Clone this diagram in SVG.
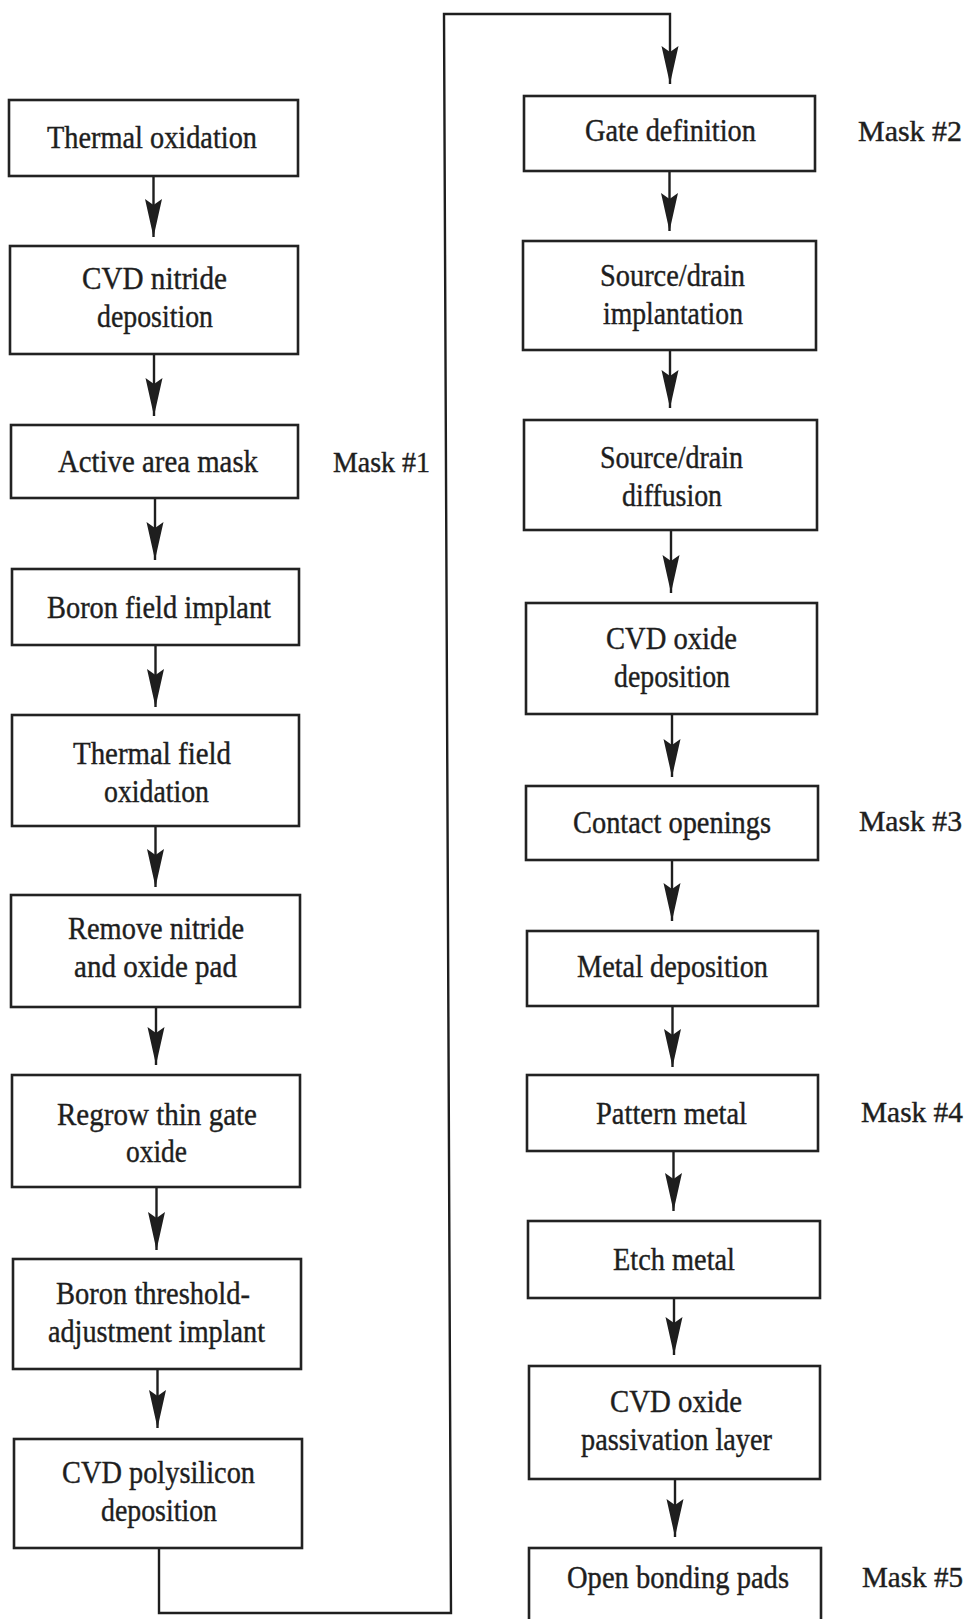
<svg xmlns="http://www.w3.org/2000/svg" width="970" height="1619" viewBox="0 0 970 1619">
<defs>
<marker id="ah" viewBox="0 0 38 18" refX="38" refY="9" markerWidth="38" markerHeight="18" markerUnits="userSpaceOnUse" orient="auto">
<path d="M0,0.5 L38,9 L0,17.5 L6,9 Z" fill="#1e1e1e"/>
</marker>
</defs>
<style>
rect.n{fill:#fff;stroke:#222;stroke-width:2.6}
text{font-family:"Liberation Serif","Times New Roman",serif;font-size:32px;fill:#1e1e1e;stroke:#1e1e1e;stroke-width:0.4;text-anchor:middle}
text.m{text-anchor:start;font-size:29px}
.c path{fill:none;stroke:#1e1e1e;stroke-width:2.4}
</style>
<rect width="970" height="1619" fill="#fff"/>
<g class="c" id="connectors">
<path d="M153.5,176 V237" marker-end="url(#ah)"/>
<path d="M154,354 V416" marker-end="url(#ah)"/>
<path d="M155,498 V560" marker-end="url(#ah)"/>
<path d="M155.5,645 V707" marker-end="url(#ah)"/>
<path d="M155.5,826 V887" marker-end="url(#ah)"/>
<path d="M156,1007 V1065" marker-end="url(#ah)"/>
<path d="M156.5,1187 V1250" marker-end="url(#ah)"/>
<path d="M157.5,1369 V1428" marker-end="url(#ah)"/>
<path d="M159,1548 V1613 H451 L444,14 H670 V84" marker-end="url(#ah)"/>
<path d="M669.5,171 V231" marker-end="url(#ah)"/>
<path d="M670,350 V408" marker-end="url(#ah)"/>
<path d="M671,530 V593" marker-end="url(#ah)"/>
<path d="M672,714 V777" marker-end="url(#ah)"/>
<path d="M672,860 V921" marker-end="url(#ah)"/>
<path d="M672.5,1006 V1067" marker-end="url(#ah)"/>
<path d="M673.5,1151 V1211" marker-end="url(#ah)"/>
<path d="M674,1298 V1355" marker-end="url(#ah)"/>
<path d="M675,1479 V1537" marker-end="url(#ah)"/>
</g>
<g id="n1"><rect class="n" x="9" y="100" width="289" height="76"/><text x="152" y="148" textLength="210" lengthAdjust="spacingAndGlyphs">Thermal oxidation</text></g>
<g id="n2"><rect class="n" x="10" y="246" width="288" height="108"/><text x="154.5" y="289" textLength="145" lengthAdjust="spacingAndGlyphs">CVD nitride</text><text x="155" y="327" textLength="116" lengthAdjust="spacingAndGlyphs">deposition</text></g>
<g id="n3"><rect class="n" x="11" y="425" width="287" height="73"/><text x="158" y="472" textLength="200" lengthAdjust="spacingAndGlyphs">Active area mask</text></g>
<g id="mask1"><text class="m" x="333" y="472" textLength="97" lengthAdjust="spacingAndGlyphs">Mask #1</text></g>
<g id="n4"><rect class="n" x="12" y="569" width="287" height="76"/><text x="159" y="618" textLength="224" lengthAdjust="spacingAndGlyphs">Boron field implant</text></g>
<g id="n5"><rect class="n" x="12" y="715" width="287" height="111"/><text x="152" y="764" textLength="158" lengthAdjust="spacingAndGlyphs">Thermal field</text><text x="156.5" y="802" textLength="105" lengthAdjust="spacingAndGlyphs">oxidation</text></g>
<g id="n6"><rect class="n" x="11" y="895" width="289" height="112"/><text x="156" y="939" textLength="176" lengthAdjust="spacingAndGlyphs">Remove nitride</text><text x="155.5" y="977" textLength="163" lengthAdjust="spacingAndGlyphs">and oxide pad</text></g>
<g id="n7"><rect class="n" x="12" y="1075" width="288" height="112"/><text x="157" y="1125" textLength="200" lengthAdjust="spacingAndGlyphs">Regrow thin gate</text><text x="156.5" y="1162" textLength="61" lengthAdjust="spacingAndGlyphs">oxide</text></g>
<g id="n8"><rect class="n" x="13" y="1259" width="288" height="110"/><text x="153" y="1304" textLength="194" lengthAdjust="spacingAndGlyphs">Boron threshold-</text><text x="156.5" y="1342" textLength="217" lengthAdjust="spacingAndGlyphs">adjustment implant</text></g>
<g id="n9"><rect class="n" x="14" y="1439" width="288" height="109"/><text x="158.5" y="1483" textLength="193" lengthAdjust="spacingAndGlyphs">CVD polysilicon</text><text x="159" y="1521" textLength="116" lengthAdjust="spacingAndGlyphs">deposition</text></g>
<g id="n10"><rect class="n" x="524" y="96" width="291" height="75"/><text x="670.5" y="141" textLength="171" lengthAdjust="spacingAndGlyphs">Gate definition</text></g>
<g id="mask2"><text class="m" x="858" y="141" textLength="104" lengthAdjust="spacingAndGlyphs">Mask #2</text></g>
<g id="n11"><rect class="n" x="523" y="241" width="293" height="109"/><text x="672.5" y="286" textLength="145" lengthAdjust="spacingAndGlyphs">Source/drain</text><text x="673" y="324" textLength="140" lengthAdjust="spacingAndGlyphs">implantation</text></g>
<g id="n12"><rect class="n" x="524" y="420" width="293" height="110"/><text x="671.5" y="468" textLength="143" lengthAdjust="spacingAndGlyphs">Source/drain</text><text x="672" y="506" textLength="100" lengthAdjust="spacingAndGlyphs">diffusion</text></g>
<g id="n13"><rect class="n" x="526" y="603" width="291" height="111"/><text x="671.5" y="649" textLength="131" lengthAdjust="spacingAndGlyphs">CVD oxide</text><text x="672" y="687" textLength="116" lengthAdjust="spacingAndGlyphs">deposition</text></g>
<g id="n14"><rect class="n" x="526" y="786" width="292" height="74"/><text x="672" y="833" textLength="198" lengthAdjust="spacingAndGlyphs">Contact openings</text></g>
<g id="mask3"><text class="m" x="859" y="831" textLength="103" lengthAdjust="spacingAndGlyphs">Mask #3</text></g>
<g id="n15"><rect class="n" x="527" y="931" width="291" height="75"/><text x="672.5" y="977" textLength="191" lengthAdjust="spacingAndGlyphs">Metal deposition</text></g>
<g id="n16"><rect class="n" x="527" y="1075" width="291" height="76"/><text x="671.5" y="1124" textLength="151" lengthAdjust="spacingAndGlyphs">Pattern metal</text></g>
<g id="mask4"><text class="m" x="861" y="1122" textLength="102" lengthAdjust="spacingAndGlyphs">Mask #4</text></g>
<g id="n17"><rect class="n" x="528" y="1221" width="292" height="77"/><text x="674" y="1270" textLength="122" lengthAdjust="spacingAndGlyphs">Etch metal</text></g>
<g id="n18"><rect class="n" x="529" y="1366" width="291" height="113"/><text x="676" y="1412" textLength="132" lengthAdjust="spacingAndGlyphs">CVD oxide</text><text x="676.5" y="1450" textLength="191" lengthAdjust="spacingAndGlyphs">passivation layer</text></g>
<g id="n19"><rect class="n" x="529" y="1548" width="292" height="80"/><text x="678" y="1588" textLength="222" lengthAdjust="spacingAndGlyphs">Open bonding pads</text></g>
<g id="mask5"><text class="m" x="862" y="1587" textLength="101" lengthAdjust="spacingAndGlyphs">Mask #5</text></g>
</svg>
